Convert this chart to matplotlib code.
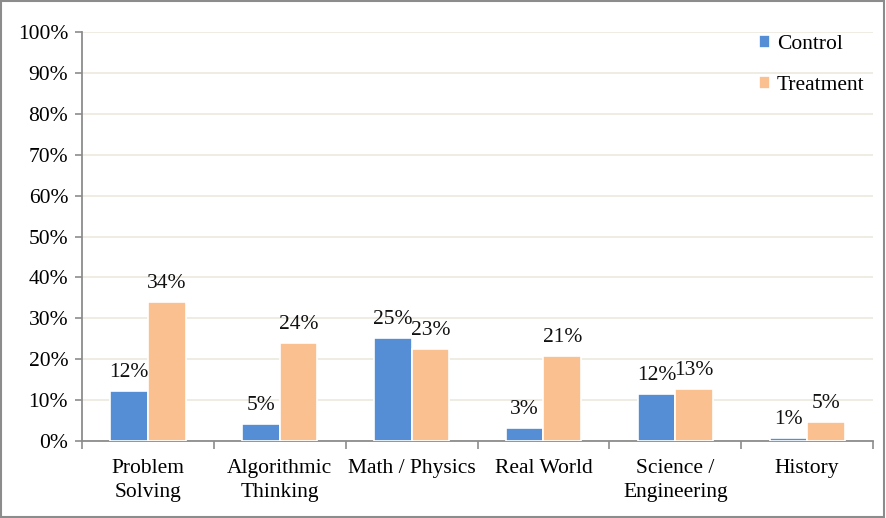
import numpy as np
import matplotlib
matplotlib.use('Agg')
import matplotlib.pyplot as plt
from matplotlib.patches import Rectangle

categories = ['Problem\nSolving', 'Algorithmic\nThinking', 'Math / Physics',
              'Real World', 'Science /\nEngineering', 'History']
control = [12.2, 4.2, 25.2, 3.2, 11.6, 0.7]
treatment = [34.1, 23.9, 22.6, 20.7, 12.6, 4.6]
control_labels = ['12%', '5%', '25%', '3%', '12%', '1%']
treatment_labels = ['34%', '24%', '23%', '21%', '13%', '5%']

plt.rcParams['font.family'] = ['Liberation Serif', 'DejaVu Serif']
blue = '#558ed5'
orange = '#fac090'
grey = '#8c8c8c'
fs = 15.5

fig = plt.figure(figsize=(8.86, 5.18), dpi=100)
ax = fig.add_axes([0.0926, 0.1486, 0.8928, 0.7896])

x = np.arange(len(categories))
w = 0.285
b1 = ax.bar(x - w/2, control, w, color=blue, edgecolor='white', linewidth=1.2, label='Control', zorder=3)
b2 = ax.bar(x + w/2, treatment, w, color=orange, edgecolor='white', linewidth=1.2, label='Treatment', zorder=3)

for bars, labs in ((b1, control_labels), (b2, treatment_labels)):
    for r, t in zip(bars, labs):
        ax.annotate(t, (r.get_x() + r.get_width()/2, r.get_height()), xytext=(0, 6.5),
                    textcoords='offset points', ha='center', va='bottom', fontsize=fs, color='#111111')

ax.set_ylim(0, 100)
ax.set_xlim(-0.5, len(categories) - 0.5)
ax.set_yticks(np.arange(0, 101, 10))
ax.set_yticklabels([f'{v}%' for v in range(0, 101, 10)], fontsize=fs)
ax.yaxis.grid(True, color='#eeece1', linewidth=1.3, zorder=0)
ax.set_axisbelow(True)

# category labels at centres, tick marks at the boundaries
ax.set_xticks(x)
ax.set_xticklabels(categories, fontsize=fs, linespacing=1.35)
ax.tick_params(axis='x', length=0, pad=13)
ax.set_xticks(np.arange(-0.5, len(categories)), minor=True)
ax.tick_params(axis='x', which='minor', length=6, color=grey, width=1.2)
ax.tick_params(axis='y', length=5, color=grey, width=1.2, pad=5)

for s in ['top', 'right']:
    ax.spines[s].set_visible(False)
for s in ['left', 'bottom']:
    ax.spines[s].set_color(grey)
    ax.spines[s].set_linewidth(1.3)

ax.legend(loc='upper right', bbox_to_anchor=(1.0, 1.013), frameon=False, fontsize=fs,
          handlelength=0.55, handleheight=0.55, handletextpad=0.3, labelspacing=1.02,
          borderaxespad=0.0)

fig.patches.append(Rectangle((0.001, 0.002), 0.997, 0.996, transform=fig.transFigure,
                             fill=False, edgecolor=grey, linewidth=1.5))

fig.savefig('out.png', dpi=100)
